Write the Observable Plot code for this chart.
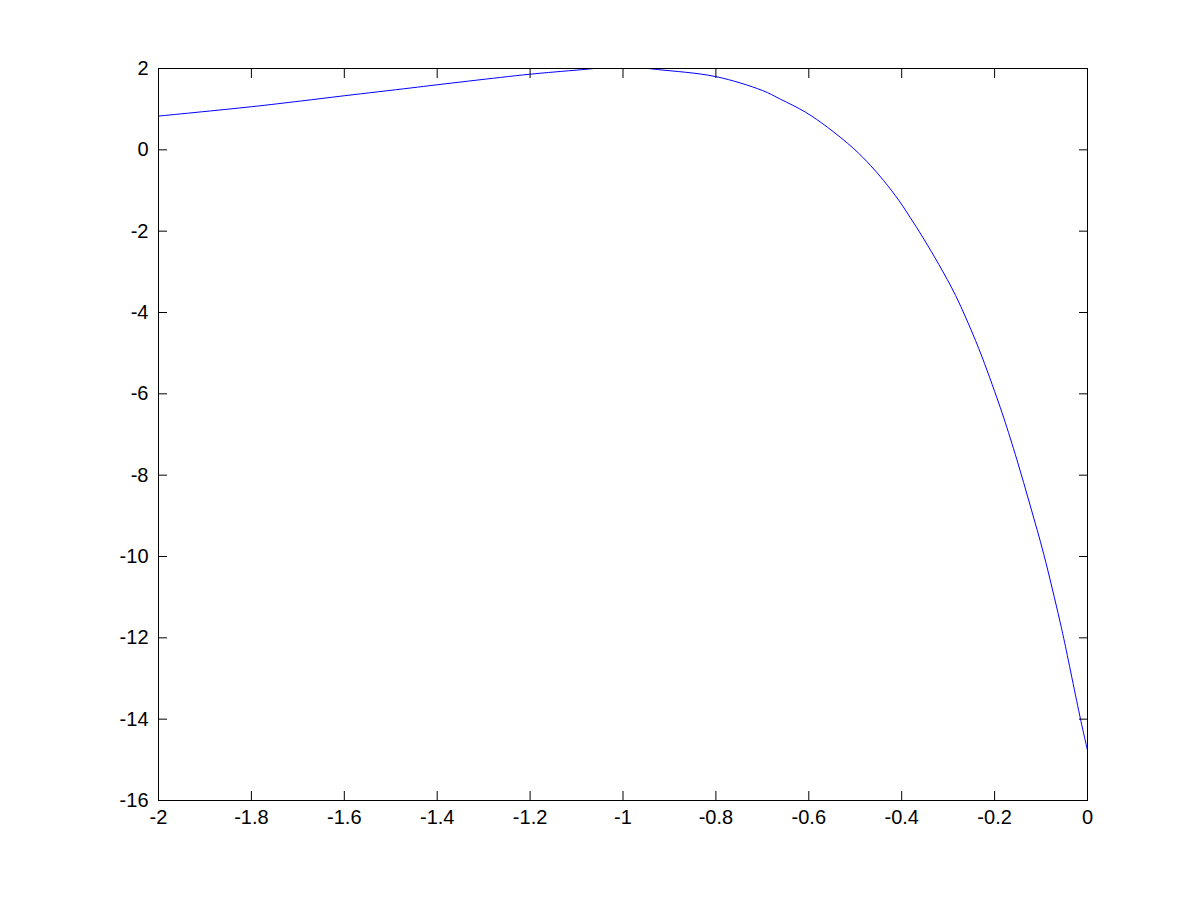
<!DOCTYPE html>
<html>
<head>
<meta charset="utf-8">
<script src="https://cdn.jsdelivr.net/npm/d3@7"></script>
<script src="https://cdn.jsdelivr.net/npm/@observablehq/plot@0.6"></script>
<style>
  html, body { margin: 0; padding: 0; background: #fff; }
  #chart svg { display: block; }
</style>
</head>
<body>
<div id="chart"></div>
<script>
// Values
const xs = [-2.000, -1.800, -1.694, -1.600, -1.458, -1.400, -1.264, -1.200, -1.090, -1.000, -0.926, -0.800, -0.700, -0.661, -0.607, -0.560, -0.503, -0.467, -0.439, -0.406, -0.374, -0.352, -0.320, -0.284, -0.241, -0.216, -0.195, -0.180, -0.152, -0.123, -0.094, -0.060, -0.051, -0.015, 0.000];
const ys = [0.83, 1.06, 1.20, 1.33, 1.52, 1.60, 1.78, 1.86, 1.97, 2.05, 1.975, 1.80, 1.46, 1.245, 0.925, 0.557, 0.026, -0.385, -0.754, -1.246, -1.80, -2.20, -2.82, -3.58, -4.69, -5.43, -6.10, -6.60, -7.62, -8.76, -9.95, -11.56, -12.02, -14.0, -14.77];
const xTicks = [-2, -1.8, -1.6, -1.4, -1.2, -1, -0.8, -0.6, -0.4, -0.2, 0];
const yTicks = [-16, -14, -12, -10, -8, -6, -4, -2, 0, 2];

const data = xs.map((x, i) => ({x, y: ys[i]}));
const fmt = d => String(d);
const font = "'Liberation Sans', Arial, Helvetica, sans-serif";

const chart = Plot.plot({
  width: 1201,
  height: 901,
  marginLeft: 158,
  marginRight: 114,
  marginTop: 68,
  marginBottom: 101,
  style: {fontFamily: font, fontSize: "20px", color: "#000", background: "#fff"},
  x: {domain: [-2, 0], label: null},
  y: {domain: [-16, 2], label: null},
  marks: [
    Plot.line(data, {x: "x", y: "y", stroke: "#0000ff", strokeWidth: 1, curve: "catmull-rom", clip: true}),
    Plot.frame({stroke: "#000"}),
    Plot.axisX(xTicks, {anchor: "bottom", tickSize: -9, tickPadding: 18, tickFormat: fmt, label: null, fontSize: 20, fontFamily: font}),
    Plot.axisX(xTicks, {anchor: "top", tickSize: -9, tickFormat: () => "", label: null}),
    Plot.axisY(yTicks, {anchor: "left", tickSize: -9, tickPadding: 19, tickFormat: fmt, label: null, fontSize: 20, fontFamily: font}),
    Plot.axisY(yTicks, {anchor: "right", tickSize: -9, tickFormat: () => "", label: null})
  ]
});
document.getElementById("chart").appendChild(chart);
</script>
</body>
</html>
